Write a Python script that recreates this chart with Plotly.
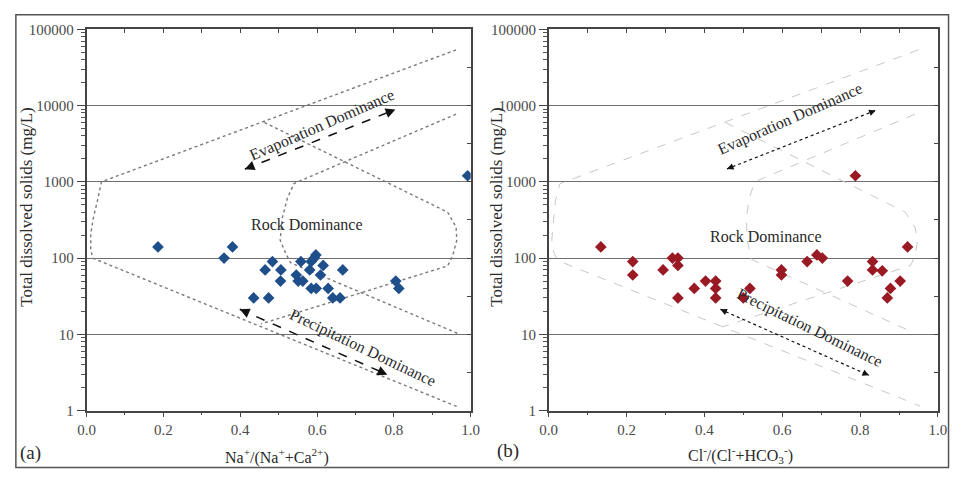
import plotly.graph_objects as go
import numpy as np

# ---------------- data ----------------
na_ratio = [0.186, 0.380, 0.358, 0.484, 0.465, 0.506, 0.505, 0.435, 0.474, 0.558,
            0.546, 0.551, 0.563, 0.585, 0.597, 0.593, 0.581, 0.616, 0.609, 0.585,
            0.598, 0.629, 0.641, 0.660, 0.667, 0.805, 0.813, 0.992]
tds_a = [140, 140, 100, 90, 70, 70, 50, 30, 30, 90,
         60, 50, 50, 90, 110, 100, 70, 80, 60, 40,
         40, 40, 30, 30, 70, 50, 40, 1200]

cl_ratio = [0.134, 0.216, 0.216, 0.294, 0.318, 0.332, 0.332, 0.332, 0.374, 0.403,
            0.429, 0.429, 0.429, 0.500, 0.517, 0.598, 0.598, 0.664, 0.689, 0.703,
            0.768, 0.832, 0.832, 0.857, 0.878, 0.870, 0.903, 0.922, 0.788]
tds_b = [140, 90, 60, 70, 100, 100, 80, 30, 40, 50,
         50, 40, 30, 30, 40, 70, 60, 90, 110, 100,
         50, 90, 70, 68, 40, 30, 50, 140, 1200]

# Gibbs boundary curves (ratio, TDS)
a_outer_x = [0.962, 0.039, 0.028, 0.018, 0.011, 0.011, 0.016, 0.970]
a_outer_y = [53700, 1000, 554, 340, 209, 130, 100, 1.1]
a_innerA_x = [0.463, 0.940, 0.962, 0.964, 0.953, 0.940, 0.454]
a_innerA_y = [6000, 400, 255, 173, 106, 79, 13.7]
a_innerB_x = [0.962, 0.540, 0.523, 0.510, 0.504, 0.518, 0.531, 0.966]
a_innerB_y = [7700, 950, 611, 341, 173, 117, 87, 10.3]

b_outer_x = [0.950, 0.029, 0.017, 0.010, 0.008, 0.013, 0.025, 0.954]
b_outer_y = [53700, 946, 557, 255, 173, 118, 92, 1.15]
b_innerA_x = [0.454, 0.916, 0.941, 0.948, 0.942, 0.930, 0.445]
b_innerA_y = [6000, 400, 255, 173, 110, 80, 12.5]
b_innerB_x = [0.941, 0.529, 0.515, 0.508, 0.510, 0.521, 0.933]
b_innerB_y = [7700, 1000, 600, 330, 170, 96, 10.8]

# trend arrows: (x0, tds0, x1, tds1)
a_evap = [0.412, 1466, 0.804, 8870]
a_prec = [0.399, 21.3, 0.783, 2.96]
b_evap = [0.458, 1475, 0.840, 8640]
b_prec = [0.441, 21.3, 0.823, 2.90]

y_ticks = [1, 10, 100, 1000, 10000, 100000]
y_ticktext = ["1", "10", "100", "1000", "10000", "100000"]
x_ticks = [0.0, 0.2, 0.4, 0.6, 0.8, 1.0]
x_ticktext = ["0.0", "0.2", "0.4", "0.6", "0.8", "1.0"]

# ---------------- figure ----------------
W, H = 959, 477
FONT = "Liberation Serif"
fig = go.Figure()

def px_x(p):
    return p / W

def px_y(p):
    return 1 - p / H

dom_a = [px_x(79), px_x(470.5)]
dom_b = [px_x(550), px_x(946.7)]
dom_y = [px_y(416.6), px_y(22)]

BLUE = "#1f4f8b"
RED = "#9a1a24"

def add_line(xs, ys, xa, ya, color, dash, width):
    fig.add_trace(go.Scatter(x=xs, y=ys, mode="lines", xaxis=xa, yaxis=ya,
                             line=dict(color=color, dash=dash, width=width),
                             hoverinfo="skip", showlegend=False))

# boundaries
add_line(a_outer_x, a_outer_y, "x", "y", "#7a7a7a", "dot", 1.4)
add_line(a_innerA_x, a_innerA_y, "x", "y", "#7a7a7a", "dot", 1.4)
add_line(a_innerB_x, a_innerB_y, "x", "y", "#7a7a7a", "dot", 1.4)
add_line(b_outer_x, b_outer_y, "x2", "y2", "#c8c8c8", "dash", 1.0)
add_line(b_innerA_x, b_innerA_y, "x2", "y2", "#c8c8c8", "dash", 1.0)
add_line(b_innerB_x, b_innerB_y, "x2", "y2", "#c8c8c8", "dash", 1.0)

# arrows
def add_arrow(arr, xa, ya, dash, width, headsize):
    x0, t0, x1, t1 = arr
    add_line([x0, x1], [t0, t1], xa, ya, "#111111", dash, width)
    l0, l1 = np.log10(t0), np.log10(t1)
    for (ex, ey, sx, sy) in [(x1, l1, x0, l0), (x0, l0, x1, l1)]:
        bx = ex + (sx - ex) * 0.05
        by = ey + (sy - ey) * 0.05
        fig.add_annotation(x=ex, y=ey, ax=bx, ay=by, xref=xa, yref=ya,
                           axref=xa, ayref=ya, text="", showarrow=True,
                           arrowhead=2, arrowsize=headsize, arrowwidth=width,
                           arrowcolor="#111111")

add_arrow(a_evap, "x", "y", "dash", 1.5, 1.3)
add_arrow(a_prec, "x", "y", "dash", 1.5, 1.3)
add_arrow(b_evap, "x2", "y2", "dot", 1.2, 1.1)
add_arrow(b_prec, "x2", "y2", "dot", 1.2, 1.1)

# data points
fig.add_trace(go.Scatter(x=na_ratio, y=tds_a, mode="markers", xaxis="x", yaxis="y",
                         marker=dict(symbol="diamond", size=9, color=BLUE),
                         showlegend=False))
fig.add_trace(go.Scatter(x=cl_ratio, y=tds_b, mode="markers", xaxis="x2", yaxis="y2",
                         marker=dict(symbol="diamond", size=9, color=RED),
                         showlegend=False))

# invisible traces for overlay axes
for xa, ya in [("x3", "y3"), ("x4", "y4")]:
    fig.add_trace(go.Scatter(x=[0.5], y=[10], xaxis=xa, yaxis=ya, mode="markers",
                             marker=dict(opacity=0), hoverinfo="skip", showlegend=False))

tickfont = dict(family=FONT, size=15, color="#4a4a4a")
minor_y = [m * 10 ** d for d in range(0, 5) for m in range(2, 10)]
half_dec = [10 ** (d + 0.5) for d in range(0, 5)]

def main_x(dom, anchor):
    return dict(domain=dom, anchor=anchor, range=[0, 1], tickvals=x_ticks,
                ticktext=x_ticktext, ticks="outside", ticklen=5, tickwidth=1.2,
                tickcolor="#444", showgrid=False, zeroline=False, showline=True,
                linecolor="#444", linewidth=1.6, mirror=True, tickfont=tickfont,
                minor=dict(tickvals=[0.1, 0.3, 0.5, 0.7, 0.9], ticks="outside",
                           ticklen=3, tickcolor="#444", showgrid=False))

def main_y(anchor):
    return dict(domain=dom_y, anchor=anchor, type="log", range=[0, 5],
                tickvals=y_ticks, ticktext=y_ticktext, ticks="outside", ticklen=8,
                tickwidth=1.2, tickcolor="#444", showgrid=True, gridcolor="#6e6e6e",
                gridwidth=1, zeroline=False, showline=True, linecolor="#444",
                linewidth=1.6, mirror=True, tickfont=tickfont,
                minor=dict(tickvals=minor_y, ticks="outside", ticklen=4,
                           tickcolor="#555", showgrid=False))

def top_x(dom, over, anchor):
    return dict(domain=dom, overlaying=over, anchor=anchor, side="top", range=[0, 1],
                tickvals=[0.1 * i for i in range(1, 10)], ticks="inside", ticklen=4,
                tickwidth=1.2, tickcolor="#444", showticklabels=False,
                showgrid=False, zeroline=False, showline=False)

def right_y(over, anchor):
    return dict(domain=dom_y, overlaying=over, anchor=anchor, side="right", type="log",
                range=[0, 5], tickvals=half_dec + y_ticks[1:-1], ticks="inside",
                ticklen=4, tickwidth=1.2, tickcolor="#444", showticklabels=False,
                showgrid=False, zeroline=False, showline=False)

fig.update_layout(
    width=W, height=H, margin=dict(l=0, r=0, t=0, b=0),
    paper_bgcolor="white", plot_bgcolor="white",
    font=dict(family=FONT, color="#333"),
    xaxis=main_x(dom_a, "y"), yaxis=main_y("x"),
    xaxis2=main_x(dom_b, "y2"), yaxis2=main_y("x2"),
    xaxis3=top_x(dom_a, "x", "y"), yaxis3=right_y("y", "x"),
    xaxis4=top_x(dom_b, "x2", "y2"), yaxis4=right_y("y2", "x2"),
    showlegend=False,
)

# text labels
def txt(x, y, s, xref, yref, size=14, angle=0):
    fig.add_annotation(x=x, y=y, xref=xref, yref=yref, text=s, showarrow=False,
                       textangle=angle, xanchor="center", yanchor="middle",
                       font=dict(family=FONT, size=size, color="#2a2a2a"))

txt(0.614, 3.746, "Evaporation Dominance", "x", "y", 16, -23.5)
txt(0.719, 0.821, "Precipitation Dominance", "x", "y", 16, 25.5)
txt(0.573, 2.44, "Rock Dominance", "x", "y", 16)
txt(0.620, 3.83, "Evaporation Dominance", "x2", "y2", 16, -23.7)
txt(0.671, 1.086, "Precipitation Dominance", "x2", "y2", 16, 26)
txt(0.559, 2.28, "Rock Dominance", "x2", "y2", 16)

# axis titles
txt(px_x(273), px_y(464), "Na<sup>+</sup>/(Na<sup>+</sup>+Ca<sup>2+</sup>)", "paper", "paper", 16)
txt(px_x(745), px_y(462), "Cl<sup>-</sup>/(Cl<sup>-</sup>+HCO<sub>3</sub><sup>-</sup>)", "paper", "paper", 16)
txt(px_x(17), px_y(206), "Total dissolved solids (mg/L)", "paper", "paper", 17, -90)
txt(px_x(496), px_y(206), "Total dissolved solids (mg/L)", "paper", "paper", 17, -90)

# panel labels
txt(px_x(22), px_y(460), "(a)", "paper", "paper", 19)
txt(px_x(509), px_y(458), "(b)", "paper", "paper", 19)

# outer frame
fig.add_shape(type="rect", xref="paper", yref="paper", x0=px_x(7), x1=px_x(957.5),
              y0=px_y(475.5), y1=px_y(7), line=dict(color="#555", width=1.5))

fig.write_html("out.html")
